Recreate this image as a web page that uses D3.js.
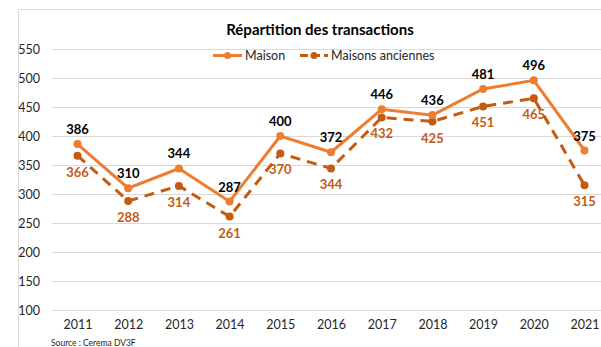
<!DOCTYPE html>
<html>
<head>
<meta charset="utf-8">
<script src="https://cdn.jsdelivr.net/npm/d3@7"></script>
<style>
  html, body { margin: 0; padding: 0; background: #fff; }
  svg { display: block; font-family: Lato, "Open Sans", sans-serif; }
</style>
</head>
<body>
<svg id="chart" width="601" height="347"></svg>
<script>
// Transactions per year
const years = [2011, 2012, 2013, 2014, 2015, 2016, 2017, 2018, 2019, 2020, 2021];
const maison = [386, 310, 344, 287, 400, 372, 446, 436, 481, 496, 375];
const anciennes = [366, 288, 314, 261, 370, 344, 432, 425, 451, 465, 315];
const yTicks = [100, 150, 200, 250, 300, 350, 400, 450, 500, 550];
const seriesNames = ["Maison", "Maisons anciennes"];

const svg = d3.select("#chart");
const W = 601, H = 347;

const x = d3.scaleLinear().domain([2011, 2021]).range([77.5, 584.5]);
const y = d3.scaleLinear().domain([100, 550]).range([310, 49]);

const cMaison = "#ED7D31";
const cAnc = "#C55A11";

// chart frame
svg.append("path")
  .attr("d", `M18.5,${H} V9.5 H${W}`)
  .attr("fill", "none").attr("stroke", "#d9d9d9").attr("stroke-width", 1);

// gridlines + y labels
const yAxis = d3.axisLeft(y).tickValues(yTicks).tickSize(-(W - 52)).tickPadding(12);
const gy = svg.append("g").attr("transform", "translate(52,0)").call(yAxis);
gy.select(".domain").remove();
gy.selectAll(".tick line").attr("stroke", "#d9d9d9").attr("stroke-width", 1);
gy.selectAll(".tick text")
  .attr("fill", "#262626").attr("font-size", 12.5)
  .attr("font-family", "Lato, 'Open Sans', sans-serif");

// x labels
const xAxis = d3.axisBottom(x).tickValues(years).tickFormat(d3.format("d")).tickSize(0).tickPadding(10);
const gx = svg.append("g").attr("transform", "translate(0,310)").call(xAxis);
gx.select(".domain").remove();
gx.selectAll(".tick text")
  .attr("fill", "#262626").attr("font-size", 12.5)
  .attr("font-family", "Lato, 'Open Sans', sans-serif");

// title
svg.append("text").attr("x", 320).attr("y", 35).attr("text-anchor", "middle")
  .attr("font-size", 15).attr("font-weight", "bold").attr("fill", "#000")
  .text("Répartition des transactions");

// lines
const line = d3.line().x((d, i) => x(years[i])).y(d => y(d));

svg.append("path").datum(anciennes).attr("d", line)
  .attr("fill", "none").attr("stroke", cAnc).attr("stroke-width", 3)
  .attr("stroke-dasharray", "10,7");
svg.append("path").datum(maison).attr("d", line)
  .attr("fill", "none").attr("stroke", cMaison).attr("stroke-width", 3);

svg.append("g").selectAll("circle").data(anciennes).join("circle")
  .attr("cx", (d, i) => x(years[i])).attr("cy", d => y(d)).attr("r", 4).attr("fill", cAnc);
svg.append("g").selectAll("circle").data(maison).join("circle")
  .attr("cx", (d, i) => x(years[i])).attr("cy", d => y(d)).attr("r", 4).attr("fill", cMaison);

// value labels
svg.append("g").selectAll("text").data(maison).join("text")
  .attr("x", (d, i) => x(years[i])).attr("y", d => y(d) - 10)
  .attr("text-anchor", "middle").attr("font-size", 13).attr("font-weight", "bold")
  .attr("fill", "#000").text(d => d);
svg.append("g").selectAll("text").data(anciennes).join("text")
  .attr("x", (d, i) => x(years[i])).attr("y", d => y(d) + 21)
  .attr("text-anchor", "middle").attr("font-size", 13).attr("font-weight", "bold")
  .attr("fill", cAnc).text(d => d);

// legend
const leg = svg.append("g");
leg.append("line").attr("x1", 213).attr("x2", 242).attr("y1", 55.5).attr("y2", 55.5)
  .attr("stroke", cMaison).attr("stroke-width", 3);
leg.append("circle").attr("cx", 227.5).attr("cy", 55.5).attr("r", 3.5).attr("fill", cMaison);
leg.append("text").attr("x", 245).attr("y", 60).attr("font-size", 12.5).attr("fill", "#262626").text(seriesNames[0]);
leg.append("line").attr("x1", 300).attr("x2", 328).attr("y1", 55.5).attr("y2", 55.5)
  .attr("stroke", cAnc).attr("stroke-width", 3).attr("stroke-dasharray", "8,4");
leg.append("circle").attr("cx", 314).attr("cy", 55.5).attr("r", 3.5).attr("fill", cAnc);
leg.append("text").attr("x", 331).attr("y", 60).attr("font-size", 12.5).attr("fill", "#262626").text(seriesNames[1]);

// source
svg.append("text").attr("x", 51).attr("y", 345.5).attr("font-size", 8.5).attr("fill", "#262626")
  .text("Source : Cerema DV3F");
</script>
</body>
</html>
